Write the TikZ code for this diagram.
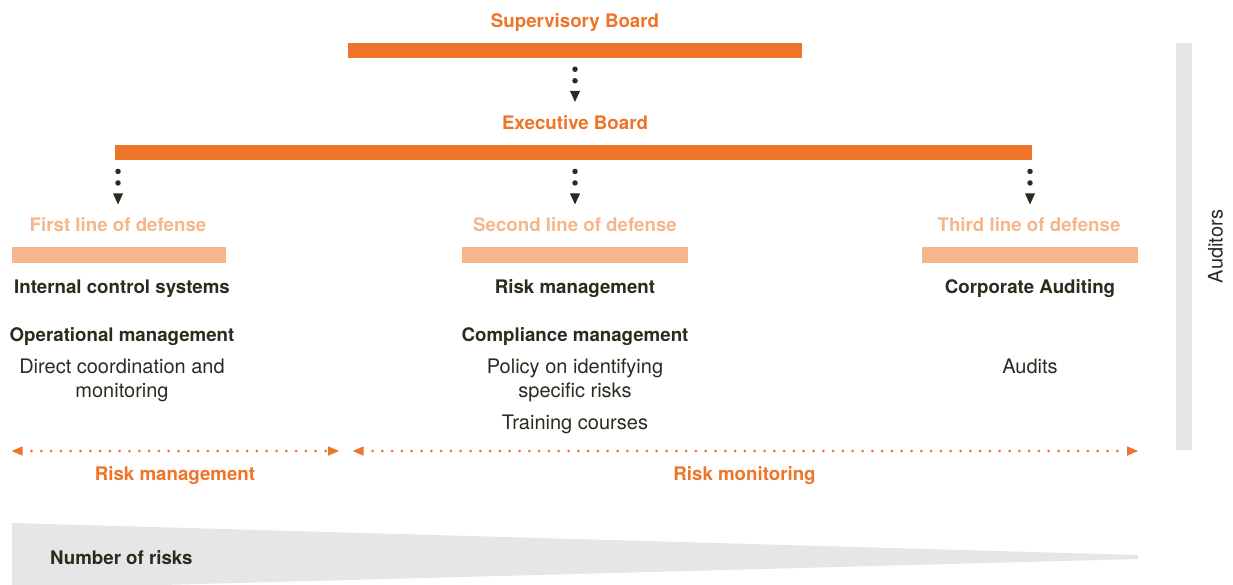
\documentclass[tikz,border=0pt]{standalone}
\usepackage{fontspec}
\setmainfont{TeX Gyre Heros}
\usepackage{xcolor}
\usetikzlibrary{arrows.meta}

\definecolor{boardorange}{HTML}{EE7429}
\definecolor{lineorange}{HTML}{F6B68C}
\definecolor{darktext}{HTML}{2D2A1E}
\definecolor{riskgray}{HTML}{E6E6E6}
\newcommand{\chartfont}{\fontsize{18.7}{24}\selectfont}
\newcommand{\taskfont}{\fontsize{20}{24}\selectfont}

\begin{document}
\begin{tikzpicture}[
    x=1pt, y=-1pt,
    board/.style={
        rectangle,
        fill=boardorange,
        inner sep=0pt,
        minimum height=15.5pt
    },
    defbar/.style={
        rectangle,
        fill=lineorange,
        inner sep=0pt,
        minimum height=15.5pt
    },
    boardtitle/.style={anchor=base, inner sep=0pt, font=\chartfont\bfseries, text=boardorange},
    deftitle/.style={anchor=base, inner sep=0pt, font=\chartfont\bfseries, text=lineorange},
    unit/.style={anchor=base, inner sep=0pt, font=\chartfont\bfseries, text=darktext},
    task/.style={anchor=base, inner sep=0pt, align=center, font=\taskfont, text=darktext},
    flow/.style={
        draw=darktext,
        line width=5.5pt,
        line cap=round,
        dash pattern=on 0pt off 11.5pt,
        -{Triangle[length=11pt, width=10pt, line width=0pt]}
    },
    span/.style={
        draw=boardorange,
        line width=3pt,
        line cap=round,
        dash pattern=on 0pt off 9.8pt,
        dash phase=1pt,
        {Triangle[length=11pt, width=9.5pt, line width=0pt]}-{Triangle[length=11pt, width=9.5pt, line width=0pt]}
    }
]
\useasboundingbox (0,0) rectangle (1233,585);

% =========================================
% Boards (top)
% =========================================
\node[boardtitle] (sbTitle) at (575,27.7) {Supervisory Board};
\node[board, minimum width=454pt] (sbBar) at (575,50.3) {};

\node[boardtitle] (ebTitle) at (575,130) {Executive Board};
\node[board, minimum width=917pt] (ebBar) at (573.5,152.5) {};
\coordinate (ebIn) at (575,102);

% =========================================
% Three lines of defense
% =========================================
\coordinate (firstIn) at (118,204.5);
\coordinate (secondIn) at (575,204.5);
\coordinate (thirdIn) at (1030,204.5);

\node[deftitle] (firstTitle) at (118,232) {First line of defense};
\node[deftitle] (secondTitle) at (575,232) {Second line of defense};
\node[deftitle] (thirdTitle) at (1029,232) {Third line of defense};

\node[defbar, minimum width=214pt] (firstBar) at (119,255) {};
\node[defbar, minimum width=226pt] (secondBar) at (575,255) {};
\node[defbar, minimum width=216pt] (thirdBar) at (1030,255) {};

% First line
\node[unit] (ics) at (122,293) {Internal control systems};
\node[unit] (opm) at (122,341) {Operational management};
\node[task] (dcm) at (122,397) {Direct coordination and\\monitoring};

% Second line
\node[unit] (rsk) at (575,293) {Risk management};
\node[unit] (cpm) at (575,341) {Compliance management};
\node[task] (pol) at (575,397) {Policy on identifying\\specific risks};
\node[task] (trn) at (575,429) {Training courses};

% Third line
\node[unit] (cau) at (1030,293) {Corporate Auditing};
\node[task] (aud) at (1030,373) {Audits};

% =========================================
% Arrows
% =========================================
\draw[flow] ([yshift=-11pt]sbBar.south) -- (ebIn);
\draw[flow] ([yshift=-11pt]firstIn |- ebBar.south) -- (firstIn);
\draw[flow] ([yshift=-11pt]secondIn |- ebBar.south) -- (secondIn);
\draw[flow] ([yshift=-11pt]thirdIn |- ebBar.south) -- (thirdIn);

% =========================================
% Risk management / monitoring spans
% =========================================
\coordinate (mgmtL) at (11.7,451);
\coordinate (mgmtR) at (339,451);
\coordinate (monL) at (352.7,451);
\coordinate (monR) at (1138,451);
\draw[span] (mgmtL) -- (mgmtR);
\draw[span] (monL) -- (monR);

\node[boardtitle] (mgmt) at (175,480) {Risk management};
\node[boardtitle] (mon) at (744.5,480) {Risk monitoring};

% =========================================
% Number of risks wedge
% =========================================
\begin{scope}
    \clip (0,0) rectangle (1233,585);
    \fill[riskgray] (12,523) -- (1138,555) -- (1138,559) -- (12,589) -- cycle;
\end{scope}
\node[unit, anchor=base west] (nor) at (50,564) {Number of risks};

% =========================================
% Auditors (right)
% =========================================
\node[rectangle, fill=riskgray, inner sep=0pt, minimum width=16pt, minimum height=407pt] (audBar) at (1184,246.5) {};
\node[task, rotate=90] (auditors) at (1222.7,246.5) {Auditors};

\end{tikzpicture}
\end{document}
